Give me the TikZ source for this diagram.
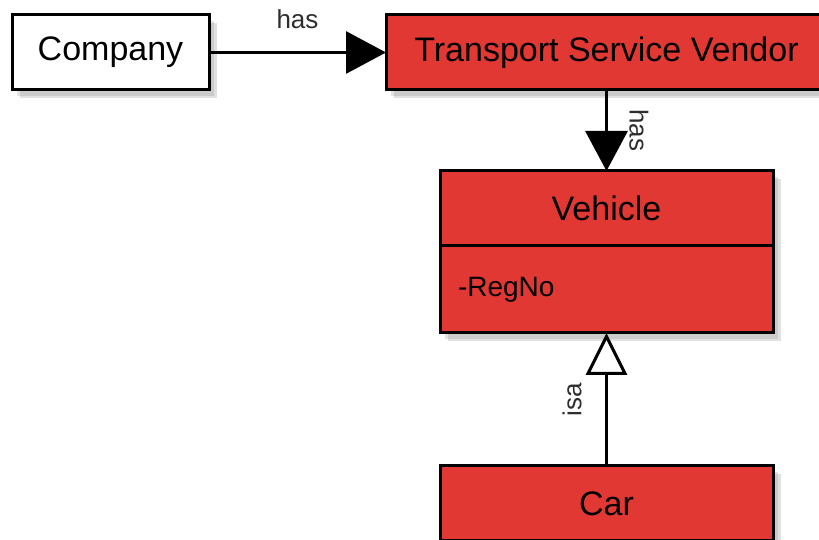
\documentclass[tikz,border=0pt]{standalone}
\usepackage{fontspec}
\setmainfont{Liberation Sans}
\usepackage{xcolor}
\usepackage{tikz}
\usetikzlibrary{arrows.meta,shapes,positioning,shadows}
\definecolor{entityred}{RGB}{226, 56, 52}
\definecolor{labelgray}{RGB}{45, 45, 45}

\begin{document}
\begin{tikzpicture}[x=1pt, y=1pt,
        entity/.style={draw, line width=3pt, fill=entityred, minimum height=75pt,
          inner sep=0pt, outer sep=0pt, font=\fontsize{34}{40}\selectfont,
          general shadow={shadow xshift=8pt, shadow yshift=-8pt, fill=black, opacity=0.12},
          drop shadow={shadow xshift=5pt, shadow yshift=-6pt, opacity=0.22}},
        hasline/.style={line width=3pt, -{Triangle[length=40pt, width=42pt]}},
        isaline/.style={line width=3pt, -{Triangle[open, length=42pt, width=41pt, fill=white]}},
        linklabel/.style={font=\fontsize{26}{30}\selectfont, text=labelgray, sloped, allow upside down}]
        \clip (0,0) rectangle (819,540);

        % Entities
        \node[entity, fill=white, minimum width=197pt] (company) at (110.5,487.5) {Company};
        \node[entity, minimum width=441pt] (tsv) at (606.5,487.5) {Transport Service Vendor};
        \node[entity, minimum width=333pt] (vehhead) at (606.5,331.5) {Vehicle};
        \node[entity, minimum width=333pt, minimum height=87pt, inner xsep=18pt,
          text width=297pt, align=left, font=\fontsize{28}{32}\selectfont,
          below=0pt of vehhead] (vehbody) {-RegNo};
        \node[entity, minimum width=333pt] (car) at (606.5,36.5) {Car};

        % Relations
        \draw[hasline] (company) -- node[linklabel, above=19pt] {has} (tsv);
        \draw[hasline] (tsv) -- node[linklabel, above=18pt] {has} (vehhead);
        \draw[isaline] (car) -- node[linklabel, above=20pt] {isa} (vehbody);
      \end{tikzpicture}
\end{document}
